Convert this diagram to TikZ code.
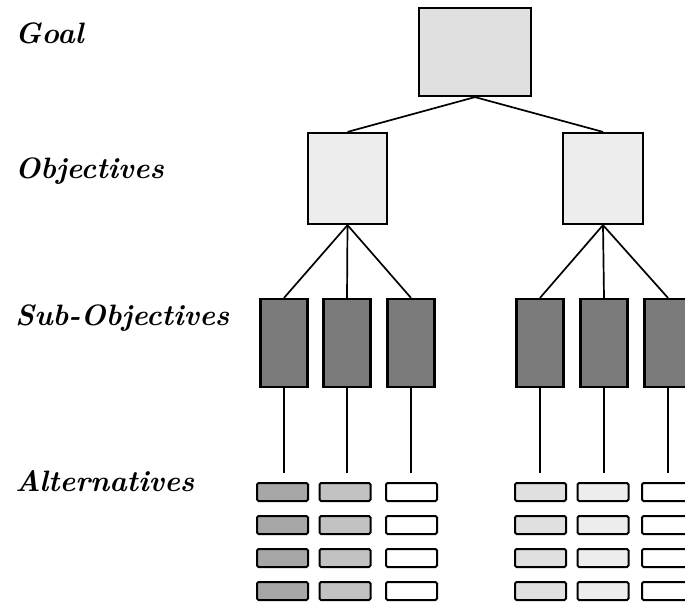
\documentclass[tikz,border=0pt]{standalone}
\begin{document}
\begin{tikzpicture}[x=1pt,y=-1pt,
  lvl/.style={font=\fontsize{29.5}{32}\selectfont\bfseries\itshape, anchor=base west, inner sep=0pt},
  bigbox/.style={draw, line width=2.2pt, fill=#1, inner sep=0pt},
  subbox/.style={draw, line width=2.2pt, fill=black!52, minimum width=47pt, minimum height=88pt, inner sep=0pt},
  altbox/.style={draw, line width=2pt, rounded corners=1.5pt, fill=#1, minimum width=51pt, minimum height=18pt, inner sep=0pt},
  link/.style={line width=1.7pt}]
\useasboundingbox (0,0) rectangle (685,603);
\clip (0,0) rectangle (685,603);

% level labels
\node[lvl] (lgoal) at (15,43) {Goal};
\node[lvl] (lobj) at (15,178) {Objectives};
\node[lvl] (lsub) at (15,325) {Sub-Objectives};
\node[lvl] (lalt) at (15,491) {Alternatives};

% goal and objectives
\node[bigbox=black!12, minimum width=112pt, minimum height=88pt] (goal) at (475,52) {};
\node[bigbox=black!7, minimum width=79pt, minimum height=91pt] (objL) at (347.5,178.5) {};
\node[bigbox=black!7, minimum width=80pt, minimum height=91pt] (objR) at (603,178.5) {};
\draw[link] (goal.south) -- (objL.north);
\draw[link] (goal.south) -- (objR.north);

% sub-objectives
\foreach \n/\x/\p in {1/284/objL, 2/347/objL, 3/411/objL, 4/540/objR, 5/604/objR, 6/668/objR}{
  \node[subbox] (sub\n) at (\x,343) {};
  \draw[link] (\p.south) -- (sub\n.north);
  \coordinate (end\n) at (\x,473);
  \draw[link] (sub\n.south) -- (end\n);
}

% alternatives
\foreach \c/\x/\f in {1/282.5/black!35, 2/345/black!24, 3/411.5/white, 4/540.5/black!12, 5/603/black!7, 6/667.5/white}{
  \foreach \r/\y in {1/492, 2/525, 3/558, 4/591}{
    \node[altbox=\f] (alt\c\r) at (\x,\y) {};
  }
}
\end{tikzpicture}
\end{document}
